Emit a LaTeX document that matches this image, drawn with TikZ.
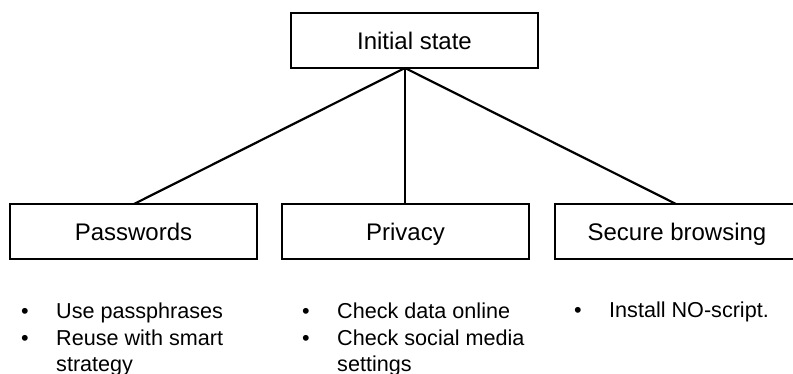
\documentclass[tikz,border=0pt]{standalone}
\usepackage{fontspec}
\setmainfont{Liberation Sans}
\begin{document}
\begin{tikzpicture}[x=1pt,y=-1pt,
  box/.style={draw=black,line width=2.2pt,fill=white,rectangle,minimum width=247pt,minimum height=55pt,inner sep=0pt,
    font=\fontsize{24}{28}\selectfont,text height=18pt,text depth=0pt},
  link/.style={draw=black,line width=2.2pt},
  bul/.style={anchor=base,inner sep=0pt,font=\fontsize{21.6}{26}\selectfont},
  item/.style={anchor=base west,inner sep=0pt,font=\fontsize{21.6}{26}\selectfont}]
\useasboundingbox (0,0) rectangle (793,374);
\clip (0,0) rectangle (793,374);
\fill[white] (0,0) rectangle (793,374);
\coordinate (hub) at (405,68);
\draw[link] (hub) -- (134,204) coordinate (pwtop);
\draw[link] (hub) -- (405,204) coordinate (prtop);
\draw[link] (hub) -- (676,204) coordinate (sbtop);
\node[box,minimum width=247pt] (init) at (414.5,40.5) {Initial state};
\node[box] (pw) at (133.5,231.5) {Passwords};
\node[box] (pr) at (405.5,231.5) {Privacy};
\node[box,minimum width=244pt] (sb) at (677,231.5) {Secure browsing};
% Passwords list
\node[bul] (pwb1) at (25,319) {•};
\node[item] (pwi1) at (56,319) {Use passphrases};
\node[bul] (pwb2) at (25,345) {•};
\node[item] (pwi2) at (56,345) {Reuse with smart};
\node[item] (pwi3) at (56,371) {strategy};
% Privacy list
\node[bul] (prb1) at (306,319) {•};
\node[item] (pri1) at (337,319) {Check data online};
\node[bul] (prb2) at (306,345) {•};
\node[item] (pri2) at (337,345) {Check social media};
\node[item] (pri3) at (337,371) {settings};
% Secure list
\node[bul] (sbb1) at (578,318) {•};
\node[item] (sbi1) at (609,318) {Install NO-script.};
\end{tikzpicture}
\end{document}
